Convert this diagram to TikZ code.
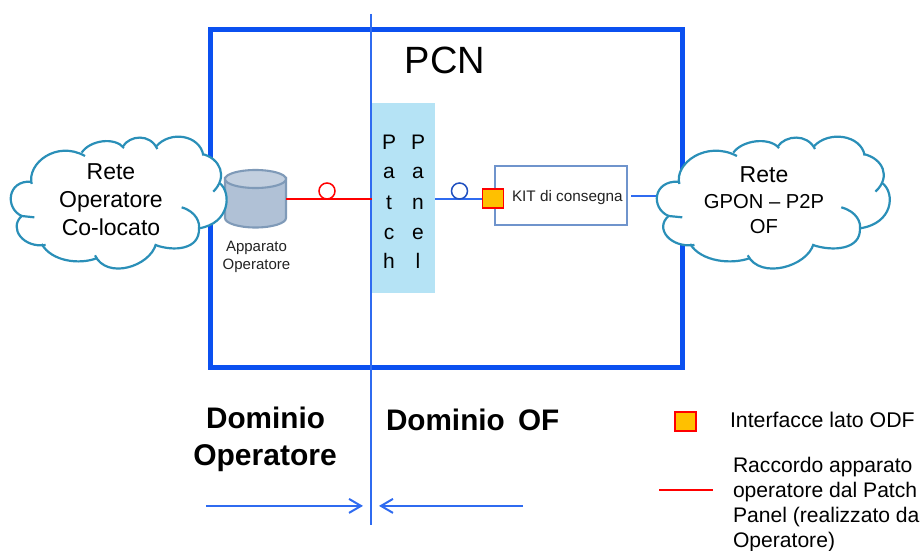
\documentclass[tikz,border=0pt]{standalone}
\usepackage{fontspec}
\setmainfont{Liberation Sans}
\usetikzlibrary{arrows.meta}
\definecolor{framecol}{HTML}{0B50F0}
\definecolor{linecol}{HTML}{2F6BF0}
\definecolor{cloudcol}{HTML}{2A8FB8}
\definecolor{panelcol}{HTML}{B5E3F5}
\definecolor{kitcol}{HTML}{6F94CC}
\definecolor{orangecol}{HTML}{FFC000}
\definecolor{cylbody}{HTML}{B0C1D6}
\definecolor{cyltop}{HTML}{C2CFDF}
\definecolor{cylline}{HTML}{7F9AB8}
\definecolor{txtgray}{HTML}{222222}
\definecolor{markblue}{HTML}{2050C0}
\newcommand{\fs}[1]{\fontsize{#1}{#1}\selectfont}
\newcommand{\cloudoutline}{
  (95,190) .. controls (80,130) and (170,60) .. (250,103)
  .. controls (270,60) and (345,50) .. (370,80)
  .. controls (390,45) and (450,40) .. (470,80)
  .. controls (510,30) and (600,45) .. (609,102)
  .. controls (650,115) and (672,155) .. (660,190)
  .. controls (695,220) and (690,310) .. (597,325)
  .. controls (600,390) and (520,395) .. (466,375)
  .. controls (450,440) and (320,480) .. (288,412)
  .. controls (240,435) and (155,425) .. (130,375)
  .. controls (70,385) and (25,325) .. (65,287)
  .. controls (15,265) and (20,180) .. (95,190) -- cycle}
\newcommand{\cloudshape}{
  \fill[white] \cloudoutline;
  \draw[cloudline] (95,192) .. controls (80,130) and (170,60) .. (255,108);
  \draw[cloudline] (245,98) .. controls (270,60) and (345,50) .. (372,84);
  \draw[cloudline] (368,80) .. controls (390,45) and (450,40) .. (472,87);
  \draw[cloudline] (468,80) .. controls (510,30) and (600,45) .. (610,106);
  \draw[cloudline] (607,102) .. controls (660,115) and (685,170) .. (640,215);
  \draw[cloudline] (660,190) .. controls (695,220) and (690,310) .. (597,325);
  \draw[cloudline] (545,262) .. controls (590,275) and (600,310) .. (597,325)
     .. controls (600,390) and (520,395) .. (466,375);
  \draw[cloudline] (468,372) .. controls (450,440) and (320,480) .. (285,406);
  \draw[cloudline] (292,414) .. controls (240,435) and (155,425) .. (125,372);
  \draw[cloudline] (137,375) .. controls (70,385) and (25,325) .. (65,288) -- (103,292);
  \draw[cloudline] (65,288) .. controls (15,265) and (20,180) .. (95,185);
}
\tikzset{
  x=1pt,y=-1pt,
  cloudline/.style={draw=cloudcol,line width=2.2pt},
  txt/.style={inner sep=0pt,outer sep=0pt,anchor=base,text=black},
  txtl/.style={txt,anchor=base west},
  wire/.style={draw=linecol,line width=2pt},
  redwire/.style={draw=red,line width=2pt},
  mark red/.style={circle,draw=red,fill=white,line width=1.5pt,minimum size=16pt,inner sep=0pt},
  mark blue/.style={circle,draw=markblue,fill=white,line width=1.5pt,minimum size=16pt,inner sep=0pt},
  iface/.style={rectangle,draw=red,fill=orangecol,line width=1.8pt,inner sep=0pt,minimum width=21pt,minimum height=19pt},
  domarrow/.style={draw=linecol,line width=2pt,-{Straight Barb[length=12pt,width=14pt,line width=2pt]}}
}
\begin{document}
\begin{tikzpicture}
\useasboundingbox (0,0) rectangle (923,551);
% frame and divider
\node[draw=framecol,line width=5pt,minimum width=472pt,minimum height=337pt,inner sep=0pt] (frame) at (446,198.5) {};
\coordinate (divtop) at (371,14);
\coordinate (divbot) at (371,525);
% patch panel
\node[rectangle,fill=panelcol,minimum width=63pt,minimum height=190pt,inner sep=0pt] (patch) at (403.5,198) {};
\draw[draw=linecol,line width=2.1pt] (divtop) -- (divbot);
% cylinder
\fill[cylbody,draw=cylline,line width=2.1pt] (225,178) -- (225,218) arc[start angle=180,end angle=360,x radius=30.5pt,y radius=9.5pt] -- (286,178) -- cycle;
\fill[cyltop,draw=cylline,line width=2.1pt] (255.5,179) ellipse[x radius=30.5pt,y radius=9pt];
\node[inner sep=0pt,minimum width=61pt,minimum height=58pt] (app) at (255.5,199) {};
% KIT box
\node[rectangle,draw=kitcol,fill=white,line width=1.7pt,minimum width=132pt,minimum height=59pt,inner sep=0pt] (kit) at (561,195.5) {};
\node[txtl,text=txtgray] (kittxt) at (512,201) {\fs{15.3}KIT di consegna};
% connectors
\coordinate (kitout) at (631,196);
\coordinate (cloudin) at (665,196);
\draw[redwire] (app.east |- 0,198.5) -- (patch.west |- 0,198.5);
\draw[wire] (patch.east |- 0,198.5) -- (485,198.5);
\draw[wire] (kitout) -- (cloudin);
\node[iface] (ifkit) at (493,198.5) {};
\node[mark red] (mr) at (327,191) {};
\node[mark blue] (mb) at (459.5,191) {};
% patch letters
\foreach \ch/\yy/\nn in {P/149/a,a/178/b,t/209/c,c/239/d,h/268/e}
  \node[txt] (pa\nn) at (389,\yy) {\fs{21}\ch};
\foreach \ch/\yy/\nn in {P/149/a,a/178/b,n/209/c,e/239/d,l/268/e}
  \node[txt] (pb\nn) at (418,\yy) {\fs{21}\ch};
% clouds
\begin{scope}[shift={(0,120)},x=0.3333pt,y=-0.3333pt]
  \cloudshape
\end{scope}
\begin{scope}[shift={(645.2,120)},x=0.3597pt,y=-0.3333pt]
  \cloudshape
\end{scope}
\node[txt] (c1a) at (111,179) {\fs{23}Rete};
\node[txt] (c1b) at (111,207) {\fs{23}Operatore};
\node[txt] (c1c) at (111,235) {\fs{23}Co-locato};
\node[txt] (c2a) at (764,182) {\fs{23}Rete};
\node[txt] (c2b) at (764,208) {\fs{20.2}GPON – P2P};
\node[txt] (c2c) at (764,233) {\fs{20.2}OF};
\node[txt,text=txtgray] (appa) at (256.5,251) {\fs{15}Apparato};
\node[txt,text=txtgray] (appb) at (256.5,269) {\fs{15}Operatore};
\node[txt] (pcn) at (445,74) {\fs{38}PCN};
% domains
\node[txt] (doma) at (265.5,428) {\fs{29.7}\bfseries Dominio};
\node[txt] (domb) at (265,465) {\fs{30}\bfseries Operatore};
\node[txtl] (domc) at (386,430) {\fs{29.7}\bfseries Dominio\hspace{5pt} OF};
\coordinate (a1s) at (206,505.9);
\coordinate (a1e) at (363,505.9);
\coordinate (a2s) at (523,505.9);
\coordinate (a2e) at (379,505.9);
\draw[domarrow] (a1s) -- (a1e);
\draw[domarrow] (a2s) -- (a2e);
% legend
\node[iface] (legif) at (685.5,421.5) {};
\node[txtl] (legt) at (730,427) {\fs{21.3}Interfacce lato ODF};
\coordinate (legl) at (659,490);
\coordinate (legr) at (713,490);
\draw[redwire] (legl) -- (legr);
\node[txtl] (r1) at (733,472) {\fs{21.1}Raccordo apparato};
\node[txtl] (r2) at (733,497) {\fs{21.1}operatore dal Patch};
\node[txtl] (r3) at (733,522) {\fs{21.1}Panel (realizzato da};
\node[txtl] (r4) at (733,547) {\fs{21.1}Operatore)};
\end{tikzpicture}
\end{document}
